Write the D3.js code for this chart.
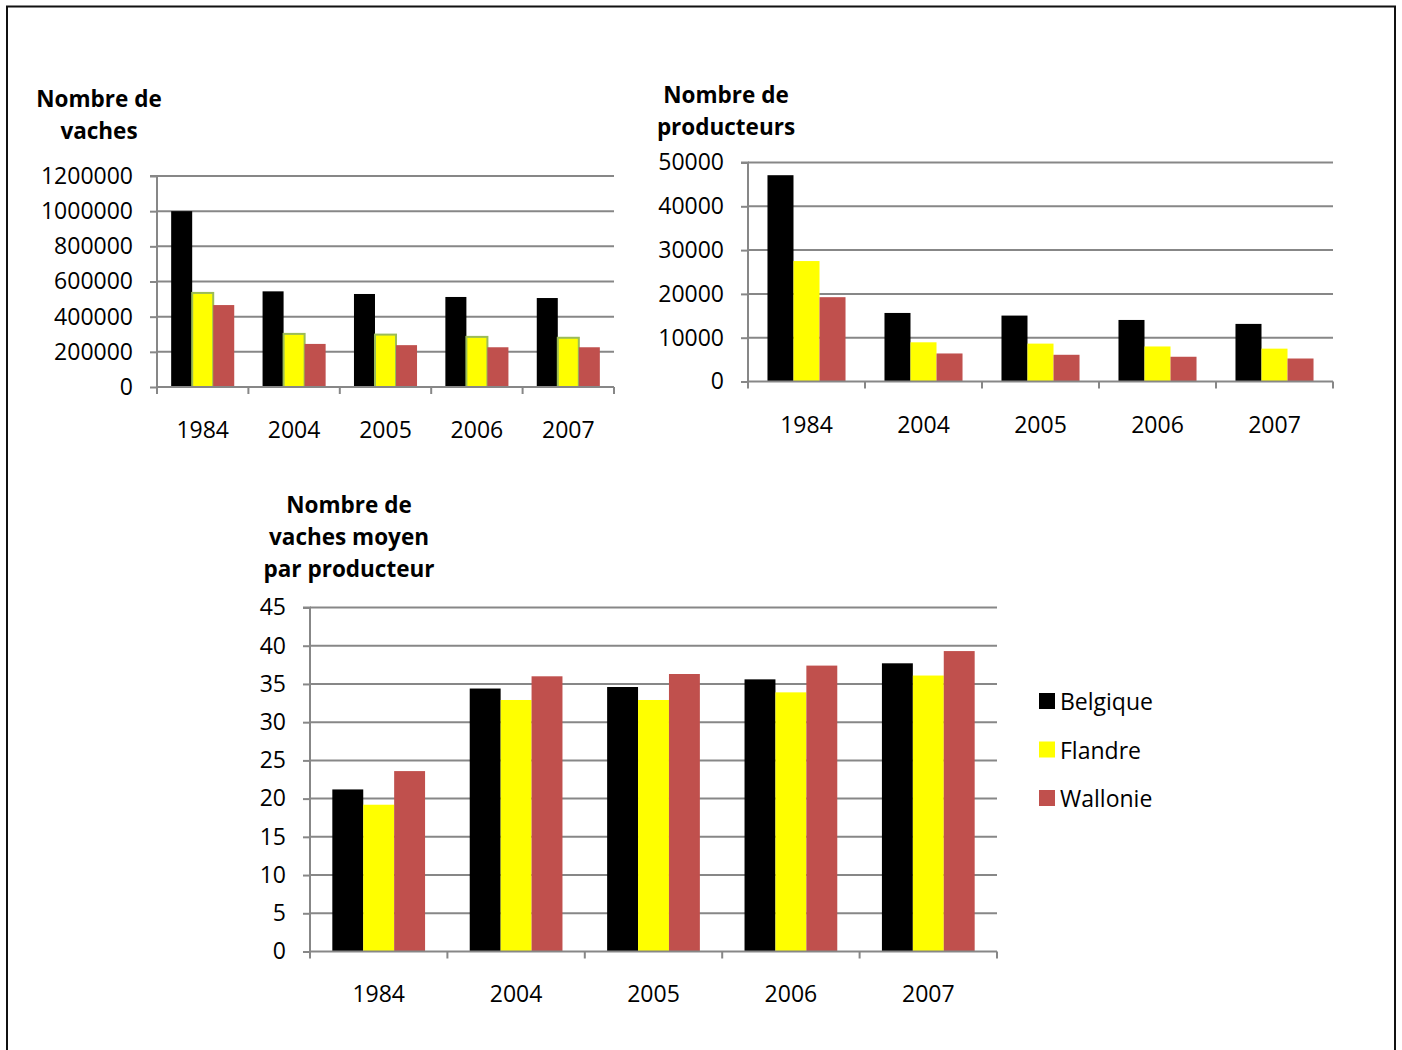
<!DOCTYPE html>
<html>
<head>
<meta charset="utf-8">
<script src="https://cdn.jsdelivr.net/npm/d3@7"></script>
<style>
  html, body { margin: 0; padding: 0; background: #fff; }
  svg text { font-family: "Open Sans", "DejaVu Sans", sans-serif; fill: #000; }
</style>
</head>
<body>
<svg id="chart" width="1402" height="1050"></svg>
<script>
// ---- data ----
const years = ["1984", "2004", "2005", "2006", "2007"];
const seriesNames = ["Belgique", "Flandre", "Wallonie"];
const seriesColors = ["#000000", "#FFFF00", "#C0504D"];

const vachesBelgique = [1000000, 544000, 529000, 512000, 506000];
const vachesFlandre  = [535000, 302000, 298000, 285000, 280000];
const vachesWallonie = [466000, 245000, 238000, 226000, 226000];

const producteursBelgique = [47100, 15650, 15050, 14050, 13150];
const producteursFlandre  = [27500, 8950, 8650, 8000, 7500];
const producteursWallonie = [19250, 6400, 6100, 5650, 5250];

const moyenBelgique = [21.2, 34.4, 34.6, 35.6, 37.7];
const moyenFlandre  = [19.2, 32.9, 32.9, 33.9, 36.1];
const moyenWallonie = [23.6, 36.0, 36.3, 37.4, 39.3];

const ticksVaches = [0, 200000, 400000, 600000, 800000, 1000000, 1200000];
const ticksProducteurs = [0, 10000, 20000, 30000, 40000, 50000];
const ticksMoyen = [0, 5, 10, 15, 20, 25, 30, 35, 40, 45];

const titleVaches = ["Nombre de", "vaches"];
const titleProducteurs = ["Nombre de", "producteurs"];
const titleMoyen = ["Nombre de", "vaches moyen", "par producteur"];

// ---- drawing ----
const svg = d3.select("#chart");
const FS = 23;
const GRID = "#878787";

// outer frame
svg.append("path")
  .attr("d", "M7,1050 L7,6.5 L1395,6.5 L1395,1050")
  .attr("fill", "none").attr("stroke", "#111").attr("stroke-width", 2);

function barChart(cfg) {
  const g = svg.append("g");
  const x = d3.scaleBand().domain(years).range([cfg.x0, cfg.x1]).padding(0);
  const y = d3.scaleLinear().domain([0, cfg.max]).range([cfg.y0, cfg.y1]);
  const frac = cfg.groupFrac;
  const xs = d3.scaleBand().domain(seriesNames)
    .range([x.bandwidth() * (1 - frac) / 2, x.bandwidth() * (1 + frac) / 2]).padding(0);

  // gridlines
  g.append("g").selectAll("line").data(cfg.ticks.filter(t => t > 0)).join("line")
    .attr("x1", cfg.x0).attr("x2", cfg.x1)
    .attr("y1", d => y(d)).attr("y2", d => y(d))
    .attr("stroke", GRID).attr("stroke-width", 2);

  // bars
  cfg.series.forEach((vals, si) => {
    g.append("g").selectAll("rect").data(vals).join("rect")
      .attr("x", (d, i) => x(years[i]) + xs(seriesNames[si]))
      .attr("width", xs.bandwidth())
      .attr("y", d => y(d))
      .attr("height", d => y(0) - y(d))
      .attr("fill", seriesColors[si])
      .attr("stroke", (cfg.outline && si === 1) ? "#9BBB59" : "none")
      .attr("stroke-width", 2);
  });

  // y axis
  const ya = d3.axisLeft(y).tickValues(cfg.ticks).tickSize(7).tickPadding(17)
    .tickFormat(d3.format("d"));
  const yg = g.append("g").attr("transform", `translate(${cfg.x0},0)`).call(ya);
  yg.select(".domain").attr("stroke", GRID).attr("stroke-width", 2)
    .attr("d", `M-7,${cfg.y1}H0V${cfg.y0}`);
  yg.selectAll(".tick line").attr("stroke", GRID).attr("stroke-width", 2);
  yg.selectAll("text").attr("font-size", FS).attr("font-family", '"Open Sans", sans-serif')
    .attr("fill", "#000");

  // x axis
  const xa = d3.axisBottom(x).tickSize(0).tickPadding(cfg.xPad);
  const xg = g.append("g").attr("transform", `translate(0,${cfg.y0})`).call(xa);
  xg.select(".domain").attr("stroke", GRID).attr("stroke-width", 2)
    .attr("d", `M${cfg.x0},0H${cfg.x1}`);
  xg.selectAll("text").attr("font-size", FS).attr("font-family", '"Open Sans", sans-serif')
    .attr("fill", "#000");
  // category boundary ticks
  const bounds = years.map(d => x(d)).concat([cfg.x1]);
  g.append("g").selectAll("line").data(bounds).join("line")
    .attr("x1", d => d).attr("x2", d => d)
    .attr("y1", cfg.y0).attr("y2", cfg.y0 + 7)
    .attr("stroke", GRID).attr("stroke-width", 2);

  // title
  g.append("g").selectAll("text").data(cfg.title).join("text")
    .attr("x", cfg.tx).attr("y", (d, i) => cfg.ty + i * 32)
    .attr("text-anchor", "middle").attr("dominant-baseline", "central")
    .attr("font-size", 22.5).attr("font-weight", "bold").text(d => d);
}

barChart({
  x0: 157, x1: 614, y0: 387, y1: 176, max: 1200000, ticks: ticksVaches,
  series: [vachesBelgique, vachesFlandre, vachesWallonie], outline: true,
  title: titleVaches, tx: 99, ty: 98, xPad: 35, groupFrac: 0.69
});

barChart({
  x0: 748, x1: 1333, y0: 381.5, y1: 162.5, max: 50000, ticks: ticksProducteurs,
  series: [producteursBelgique, producteursFlandre, producteursWallonie],
  title: titleProducteurs, tx: 726, ty: 94, xPad: 35, groupFrac: 0.667
});

barChart({
  x0: 310, x1: 997, y0: 951.5, y1: 607.5, max: 45, ticks: ticksMoyen,
  series: [moyenBelgique, moyenFlandre, moyenWallonie],
  title: titleMoyen, tx: 349, ty: 504, xPad: 34, groupFrac: 0.675
});

// legend
const leg = svg.append("g").attr("transform", "translate(1039,701)");
const li = leg.selectAll("g").data(seriesNames).join("g")
  .attr("transform", (d, i) => `translate(0,${i * 48.5})`);
li.append("rect").attr("x", 0).attr("y", -8).attr("width", 16).attr("height", 16)
  .attr("fill", (d, i) => seriesColors[i]);
li.append("text").attr("x", 21).attr("y", 0).attr("dominant-baseline", "central")
  .attr("font-size", FS).text(d => d);
</script>
</body>
</html>
